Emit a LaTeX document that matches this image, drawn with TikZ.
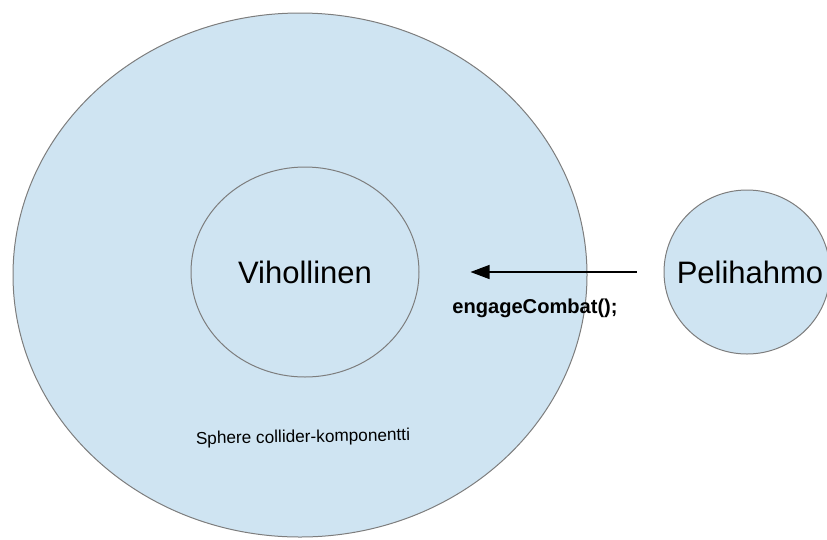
\documentclass[tikz,border=0pt]{standalone}
\usepackage{fontspec}
\setmainfont{Liberation Sans}
\usepackage{tikz}
\usetikzlibrary{positioning}
\usetikzlibrary{shapes.geometric}
\usetikzlibrary{arrows.meta}
\definecolor{spherefill}{RGB}{207,228,242}
\definecolor{rimgray}{RGB}{125,125,125}
\tikzset{
  blob/.style           = { ellipse, inner sep=0pt, fill=spherefill, draw=rimgray, line width=1pt },
  actorname/.style      = { inner sep=0pt, font=\fontsize{31}{36}\selectfont },
  caption/.style        = { inner sep=0pt, font=\fontsize{17.2}{20}\selectfont },
  message/.style        = { inner sep=0pt, font=\bfseries\fontsize{20.1}{24}\selectfont },
}
\tikzset{
  call/.style           = { line width=1.2pt, draw=black, -{Triangle[length=19pt,width=14pt]} }
}

\begin{document}
\begin{tikzpicture}[x=1pt,y=-1pt]
  \useasboundingbox (0,0) rectangle (827,539);
  \node (sphere)     [blob,minimum width=574pt,minimum height=524pt] at (300,275) {};
  \node (vihollinen) [blob,minimum width=228pt,minimum height=210pt,
                      label={[actorname]center:Vihollinen}]          at (305,272) {};
  \node (pelihahmo)  [blob,minimum width=166pt,minimum height=164pt,
                      label={[actorname,xshift=3pt]center:Pelihahmo}] at (747,272) {};
  \node (collider)   [caption,rotate=1]                              at (303,438) {Sphere collider-komponentti};
  \node (engage)     [message]                                       at (535,308) {engageCombat();};

  \draw [call] ([xshift=-27pt]pelihahmo.west) -- ([xshift=51pt]vihollinen.east);
\end{tikzpicture}
\end{document}
